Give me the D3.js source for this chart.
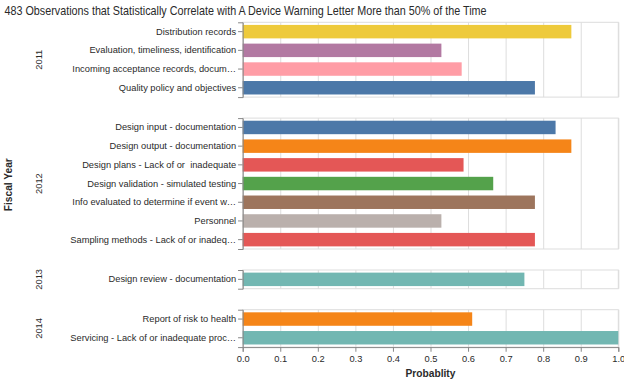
<!DOCTYPE html>
<html>
<head>
<meta charset="utf-8">
<script src="https://cdn.jsdelivr.net/npm/d3@7"></script>
<style>
  html, body { margin: 0; padding: 0; background: #fff; }
  svg { display: block; font-family: "Liberation Sans", Arial, sans-serif; }
  text { white-space: pre; }
</style>
</head>
<body>
<svg id="chart" width="624" height="383"></svg>
<script>
// ---- data ----
const fiscalYears = ["2011", "2012", "2013", "2014"];
const observationYear = [
  "2011", "2011", "2011", "2011",
  "2012", "2012", "2012", "2012", "2012", "2012", "2012",
  "2013",
  "2014", "2014"
];
const observations = [
  "Distribution records",
  "Evaluation, timeliness, identification",
  "Incoming acceptance records, docum…",
  "Quality policy and objectives",
  "Design input - documentation",
  "Design output - documentation",
  "Design plans - Lack of or  inadequate",
  "Design validation - simulated testing",
  "Info evaluated to determine if event w…",
  "Personnel",
  "Sampling methods - Lack of or inadeq…",
  "Design review - documentation",
  "Report of risk to health",
  "Servicing - Lack of or inadequate proc…"
];
const probability = [
  0.875, 0.529, 0.583, 0.778,
  0.833, 0.875, 0.588, 0.667, 0.778, 0.529, 0.778,
  0.75,
  0.611, 1.0
];
const xTicks = [0, 0.1, 0.2, 0.3, 0.4, 0.5, 0.6, 0.7, 0.8, 0.9, 1.0];

// ---- styles ----
const barColors = [
  "#eeca3b", "#b279a2", "#ff9da6", "#4c78a8",
  "#4c78a8", "#f58518", "#e45756", "#54a24b", "#9d755d", "#bab0ac", "#e45756",
  "#72b7b2",
  "#f58518", "#72b7b2"
];
const titleText = "483 Observations that Statistically Correlate with A Device Warning Letter More than 50% of the Time";

const svg = d3.select("#chart");
const labelSize = 9.3;
const step = 18.7, gap = 21, top0 = 22.3;
const x = d3.scaleLinear().domain([0, 1]).range([242.7, 618.3]);
const textColor = "#2a2a2a";

svg.append("text")
  .attr("x", 4.5).attr("y", 15.2)
  .attr("font-size", 12.4)
  .attr("fill", textColor)
  .attr("textLength", 482)
  .attr("lengthAdjust", "spacingAndGlyphs")
  .text(titleText);

const rows = observations.map((o, i) => ({
  name: o, year: observationYear[i], p: probability[i], color: barColors[i]
}));

let cursor = top0;
let lastBottom = 0;
fiscalYears.forEach(year => {
  const items = rows.filter(r => r.year === year);
  const h = items.length * step;
  const y = d3.scaleBand()
    .domain(items.map(d => d.name))
    .range([cursor, cursor + h])
    .paddingInner(0.28).paddingOuter(0.14);

  const g = svg.append("g");
  // grid
  g.append("g")
    .attr("transform", `translate(0,${cursor + h})`)
    .call(d3.axisBottom(x).tickValues(xTicks).tickSize(-h).tickFormat(""))
    .call(s => s.select(".domain").remove())
    .call(s => s.selectAll("line").attr("stroke", "#ddd").attr("stroke-width", 1));
  // frame
  g.append("rect")
    .attr("x", x(0)).attr("y", cursor)
    .attr("width", x(1) - x(0)).attr("height", h)
    .attr("fill", "none").attr("stroke", "#ddd");
  // bars
  g.selectAll("rect.bar").data(items).join("rect")
    .attr("class", "bar")
    .attr("x", x(0))
    .attr("y", d => y(d.name))
    .attr("width", d => x(d.p) - x(0))
    .attr("height", y.bandwidth())
    .attr("fill", d => d.color);
  // y axis
  g.append("g")
    .attr("transform", `translate(${x(0)},0)`)
    .call(d3.axisLeft(y).tickSize(4.65).tickPadding(1.9))
    .call(s => s.select(".domain").attr("stroke", "#888"))
    .call(s => s.selectAll(".tick line").attr("stroke", "#888"))
    .call(s => s.selectAll(".tick text")
      .attr("font-size", labelSize)
      .attr("font-family", "Liberation Sans, Arial, sans-serif")
      .attr("fill", textColor));
  // row header
  const cy = cursor + h / 2;
  svg.append("text")
    .attr("transform", `translate(41.5,${cy}) rotate(-90)`)
    .attr("text-anchor", "middle")
    .attr("font-size", labelSize)
    .attr("fill", textColor)
    .text(year);

  lastBottom = cursor + h;
  cursor = cursor + h + gap;
});

// bottom axis
svg.append("g")
  .attr("transform", `translate(0,${lastBottom})`)
  .call(d3.axisBottom(x).tickValues(xTicks).tickSize(4.65).tickPadding(3.5).tickFormat(d3.format(".1f")))
  .call(s => s.select(".domain").attr("stroke", "#888"))
  .call(s => s.selectAll(".tick line").attr("stroke", "#888"))
  .call(s => s.selectAll(".tick text")
    .attr("font-size", labelSize)
    .attr("font-family", "Liberation Sans, Arial, sans-serif")
    .attr("fill", textColor));

svg.append("text")
  .attr("x", (x(0) + x(1)) / 2).attr("y", 377)
  .attr("text-anchor", "middle")
  .attr("font-size", 10.2).attr("font-weight", "bold")
  .attr("fill", textColor)
  .text("Probablity");

svg.append("text")
  .attr("transform", `translate(12,${(top0 + lastBottom) / 2}) rotate(-90)`)
  .attr("text-anchor", "middle")
  .attr("font-size", 10.2).attr("font-weight", "bold")
  .attr("fill", textColor)
  .text("Fiscal Year");
</script>
</body>
</html>
